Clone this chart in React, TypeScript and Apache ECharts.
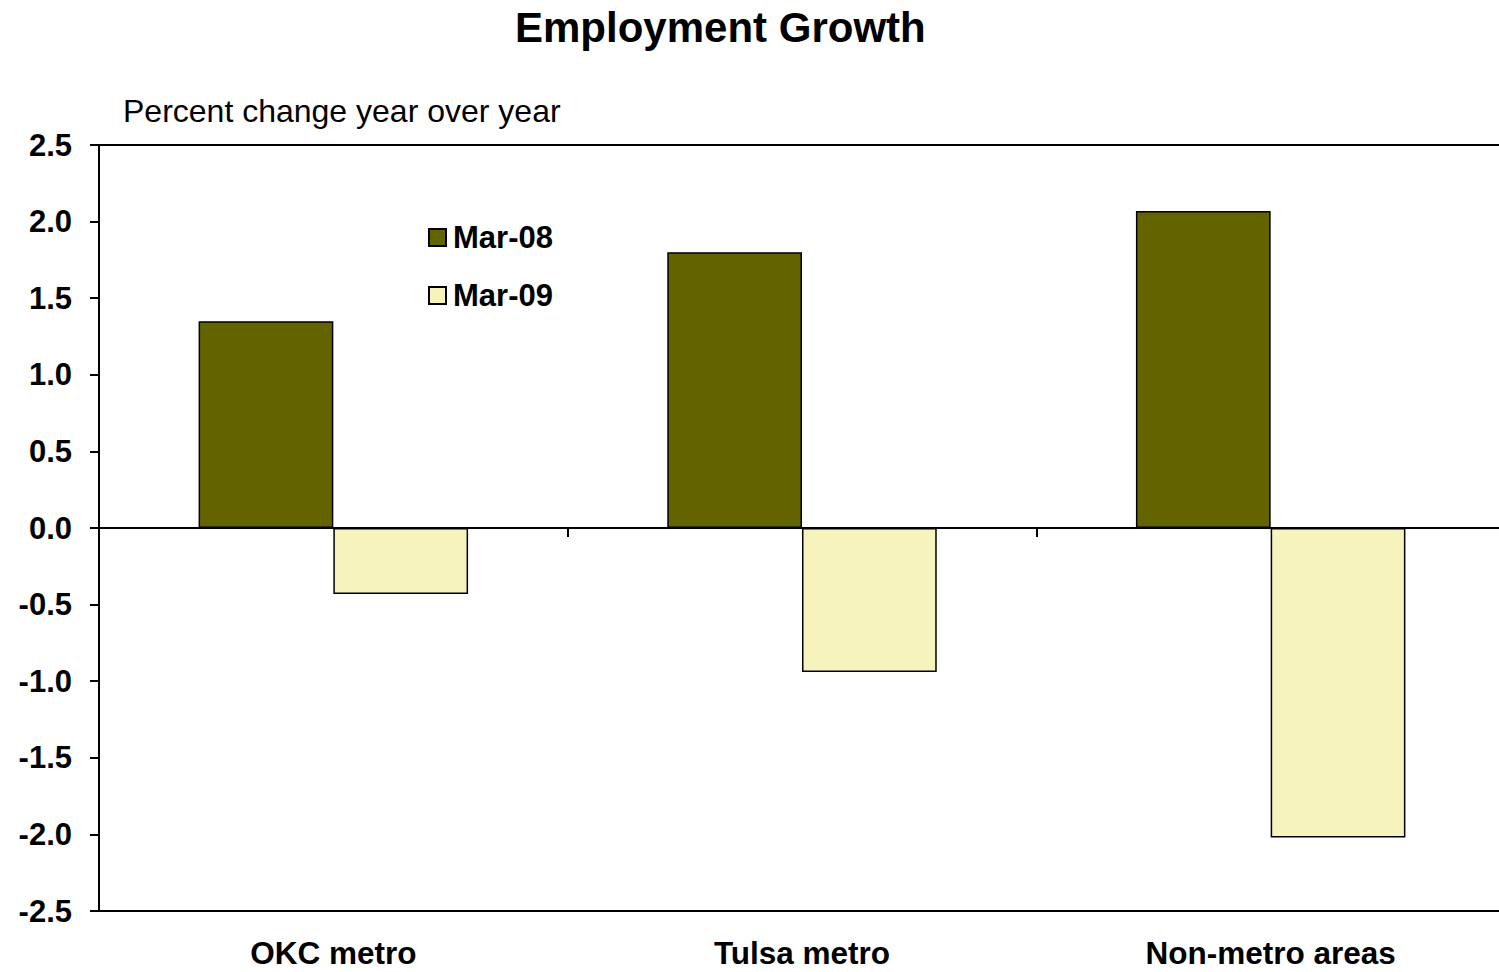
import React, { useEffect, useRef } from "react";
import * as echarts from "echarts";

const categories = ["OKC metro", "Tulsa metro", "Non-metro areas"];
const seriesNames = ["Mar-08", "Mar-09"];
const mar08 = [1.35, 1.8, 2.07];
const mar09 = [-0.43, -0.94, -2.02];
const titleText = "Employment Growth";
const subtitleText = "Percent change year over year";

const FONT = "'Liberation Sans', Arial, sans-serif";

export default function App() {
  const ref = useRef<HTMLDivElement>(null);
  useEffect(() => {
    document.body.style.margin = "0";
    const chart = echarts.init(ref.current!, null, { renderer: "svg" });
    const catAxisBase = {
      type: "category" as const,
      data: categories,
      boundaryGap: true,
    };
    chart.setOption({
      animation: false,
      backgroundColor: "#ffffff",
      textStyle: { fontFamily: FONT },
      title: {
        text: titleText,
        left: 510,
        top: 1,
        textStyle: { fontFamily: FONT, fontWeight: "bold", fontSize: 42, color: "#000" },
      },
      graphic: [
        {
          type: "text",
          left: 123,
          top: 95,
          style: { text: subtitleText, fontFamily: FONT, fontSize: 32, fill: "#000" },
        },
      ],
      legend: {
        orient: "vertical",
        left: 423,
        top: 217,
        itemWidth: 17,
        itemHeight: 17,
        itemGap: 27,
        icon: "rect",
        data: seriesNames,
        textStyle: { fontFamily: FONT, fontWeight: "bold", fontSize: 31, color: "#000", padding: [0, 0, 0, 2] },
      },
      grid: { left: 99, top: 145, right: 0, bottom: 61, containLabel: false },
      xAxis: [
        {
          ...catAxisBase,
          position: "bottom",
          axisLine: { show: true, onZero: false, lineStyle: { color: "#000", width: 2 } },
          axisTick: { show: false },
          axisLabel: {
            interval: 0,
            margin: 29,
            lineHeight: 26,
            fontFamily: FONT,
            fontWeight: "bold",
            fontSize: 31.5,
            color: "#000",
          },
        },
        {
          ...catAxisBase,
          position: "top",
          axisLine: { show: true, onZero: false, lineStyle: { color: "#000", width: 2 } },
          axisTick: { show: false },
          axisLabel: { show: false },
        },
        {
          ...catAxisBase,
          position: "bottom",
          axisLine: { show: true, onZero: true, lineStyle: { color: "#000", width: 2 } },
          axisTick: { show: true, interval: 0, length: 9, lineStyle: { color: "#000", width: 2 } },
          axisLabel: { show: false },
        },
      ],
      yAxis: {
        type: "value",
        min: -2.5,
        max: 2.5,
        interval: 0.5,
        axisLine: { show: true, onZero: false, lineStyle: { color: "#000", width: 2 } },
        axisTick: { show: true, length: 9, lineStyle: { color: "#000", width: 2 } },
        splitLine: { show: false },
        axisLabel: {
          margin: 27,
          formatter: (v: number) => v.toFixed(1),
          fontFamily: FONT,
          fontWeight: "bold",
          fontSize: 31,
          color: "#000",
        },
      },
      series: [
        {
          name: seriesNames[0],
          type: "bar",
          xAxisIndex: 0,
          data: mar08,
          barGap: "0%",
          barCategoryGap: "42.5%",
          itemStyle: { color: "#636300", borderColor: "#000", borderWidth: 1.5 },
        },
        {
          name: seriesNames[1],
          type: "bar",
          xAxisIndex: 0,
          data: mar09,
          barGap: "0%",
          barCategoryGap: "42.5%",
          itemStyle: { color: "#F6F3BD", borderColor: "#000", borderWidth: 1.5 },
        },
      ],
    });
    return () => chart.dispose();
  }, []);
  return (
    <div
      style={{ position: "absolute", left: 0, top: 0, width: 1499, height: 972, overflow: "hidden" }}
    >
      <div ref={ref} style={{ width: 1505, height: 972 }} />
    </div>
  );
}
